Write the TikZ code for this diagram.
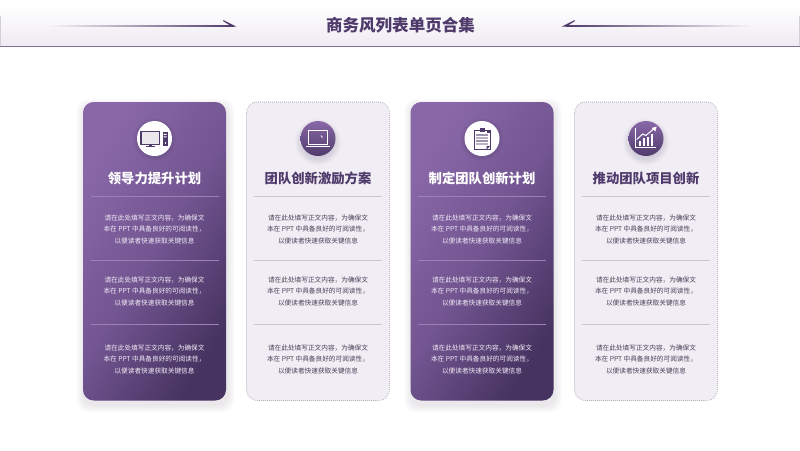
\documentclass[tikz,border=0pt]{standalone}
\usepackage{fontspec}
\setmainfont{Noto Sans CJK SC}
\usetikzlibrary{fadings}
\definecolor{deep}{HTML}{4F3B6B}
\definecolor{ptop}{HTML}{8A68A8}
\definecolor{pmid}{HTML}{725591}
\definecolor{pbot}{HTML}{463360}
\definecolor{lightcard}{HTML}{F0EDF4}
\definecolor{dotline}{HTML}{9D99A6}
\definecolor{sepdark}{HTML}{9E7FB8}
\definecolor{seplight}{HTML}{C9C4D0}
\definecolor{bodydark}{HTML}{4A4057}
\definecolor{bodylight}{HTML}{F3ECF8}
\definecolor{headbot}{HTML}{EEEAF2}
\definecolor{headline}{HTML}{7D7590}
\tikzfading[name=fadeleft,left color=transparent!100,right color=transparent!0]
\tikzfading[name=faderight,left color=transparent!0,right color=transparent!100]
\tikzset{
  x=0.75pt,y=-0.75pt,
  titletext/.style={font=\fontsize{12.4}{15}\selectfont\bfseries,text=deep,inner sep=0pt},
  headtext/.style={font=\fontsize{10}{12}\selectfont\bfseries,inner sep=0pt},
  blocktext/.style={font=\fontsize{5}{8.6}\selectfont,align=center,inner sep=0pt},
  sep/.style={line width=0.75pt},
  iconline/.style={draw=#1,line width=0.9pt,line join=round},
}
\newcommand{\blockbody}{请在此处填写正文内容，为确保文\\本在 PPT 中具备良好的可阅读性，\\以便读者快速获取关键信息}
\newcommand{\cardshadow}[3]{%
  \foreach \g in {1,...,7}{%
    \fill[deep,opacity=0.015,rounded corners=8pt]
      (#2-\g+1,102+4-\g) rectangle (#3+\g+1,400+5+\g);
  }%
}
\newcommand{\darkcard}[3]{%
  \pgfmathsetmacro{\L}{#2-71.5}\pgfmathsetmacro{\R}{#2+71.5}%
  \cardshadow{#1}{\L}{\R}%
  \shade[rounded corners=8pt,top color=ptop,bottom color=pbot,middle color=pmid,shading angle=58]
    (\L,102) rectangle (\R,400.5);
  \cardinner{#1}{#2}{#3}{white}{bodylight}{sepdark}%
}
\newcommand{\lightcardbox}[3]{%
  \pgfmathsetmacro{\L}{#2-71.5}\pgfmathsetmacro{\R}{#2+71.5}%
  \fill[lightcard,rounded corners=8pt] (\L,102) rectangle (\R,400.5);
  \draw[dotline,line width=0.5pt,densely dotted,rounded corners=8pt] (\L,102) rectangle (\R,400.5);
  \cardinner{#1}{#2}{#3}{deep}{bodydark}{seplight}%
}
\newcommand{\cardinner}[6]{%
  \node[headtext,text=#4] (title#1) at (#2,178.5) {#3};
  \node[blocktext,text=#5] (bodya#1) at (#2,229) {\blockbody};
  \node[blocktext,text=#5] (bodyb#1) at (#2,291) {\blockbody};
  \node[blocktext,text=#5] (bodyc#1) at (#2,359) {\blockbody};
  \draw[sep,#6] (#2-64,196.7) -- (#2+64,196.7);
  \draw[sep,#6] (#2-64,260.7) -- (#2+64,260.7);
  \draw[sep,#6] (#2-64,324) -- (#2+64,324);
}
\newcommand{\whitedisc}[1]{%
  \foreach \g in {1,...,4}{\fill[black,opacity=0.02] (#1,139.5) circle[radius=(17.5+\g)*0.75pt];}%
  \fill[white] (#1,138.5) circle[radius=17.5*0.75pt];
}
\newcommand{\deepdisc}[1]{%
  \foreach \g in {1,...,7}{\fill[deep,opacity=0.022] (#1,142) circle[radius=(16+\g)*0.75pt];}%
  \shade[top color=ptop,bottom color=deep] (#1,138.5) circle[radius=17.5*0.75pt];
}
\begin{document}
\begin{tikzpicture}
\useasboundingbox (0,0) rectangle (800,450);
\fill[white] (0,0) rectangle (800,450);
% header band
\shade[top color=white,bottom color=headbot] (0,6) rectangle (800,46);
\draw[headline!35,line width=0.4pt] (0.5,16) -- (0.5,46) (799.5,16) -- (799.5,46);
\draw[headline,line width=0.75pt] (0,46.3) -- (800,46.3);
\node[titletext] (maintitle) at (400.5,25) {商务风列表单页合集};
% header arrows
\fill[deep,path fading=fadeleft] (50,25) rectangle (234,26.7);
\fill[deep,path fading=faderight] (566,25) rectangle (750,26.7);
\fill[deep] (223.5,20.2) -- (236.5,26.7) -- (232,26.7) -- (223,21) -- cycle;
\fill[deep] (574.5,20.2) -- (561.5,26.7) -- (566,26.7) -- (575,21) -- cycle;
% cards
\darkcard{a}{154.5}{领导力提升计划}
\lightcardbox{b}{318}{团队创新激励方案}
\darkcard{c}{482}{制定团队创新计划}
\lightcardbox{d}{646}{推动团队项目创新}
% discs
\whitedisc{154.5}
\deepdisc{318}
\whitedisc{482}
\deepdisc{646}
% icon a: computer
\begin{scope}[shift={(153.7,138.3)}]
  \draw[iconline=deep,fill=deep!12] (-12.7,-6.7) rectangle (5.7,6);
  \fill[deep] (-5,6) rectangle (-2,8);
  \fill[deep] (-8,8) rectangle (1,9);
  \fill[deep] (9,-6.5) rectangle (14,8);
  \fill[white] (10,-4.5) rectangle (13,-3.5) (10,-2) rectangle (13,-1);
  \fill[white] (11,4) rectangle (12,5.5);
\end{scope}
% icon b: laptop
\begin{scope}[shift={(317.7,138.3)}]
  \draw[iconline=white] (-9.3,-7.7) rectangle (9.7,6.2);
  \fill[white] (-12,7.6) rectangle (12.3,9);
  \fill[white] (3.2,-3.2) -- (5.2,-1) -- (4.4,-0.5) -- (3,-2.5) -- cycle;
\end{scope}
% icon c: clipboard
\begin{scope}[shift={(481.7,138)}]
  \draw[draw=deep,line width=0.6pt,fill=white] (-7.3,-8) rectangle (8.3,11.5);
  \fill[deep] (-2,-10.5) rectangle (3,-6.5);
  \fill[deep!55!white] (-5.5,-4.5) rectangle (6.5,-2.5);
  \fill[deep!40!white] (-5.5,-1.5) rectangle (6.5,0.5);
  \fill[deep!55!white] (-5.5,1.5) rectangle (6.5,3.5);
  \fill[deep!40!white] (-5.5,4.5) rectangle (6.5,6.5);
  \fill[deep] (5,8) -- (8.3,8) -- (5,11.5) -- cycle;
  \fill[deep] (5.5,-8) rectangle (8.3,-5.5);
\end{scope}
% icon d: chart
\begin{scope}[shift={(645.7,138)}]
  \draw[draw=white,line width=0.75pt] (-10,-10) -- (-10,9) -- (10.5,9);
  \foreach \bx/\bt in {-7/3,-3/0,1/-1,5/-4}{\fill[white] (\bx,\bt) rectangle (\bx+2.4,7.8);}
  \draw[white,line width=0.75pt] (-9,1.5) -- (-3,-4) -- (0,-2.5) -- (8,-9);
  \fill[white] (11,-11.5) -- (9.6,-6.5) -- (6,-10) -- cycle;
\end{scope}
\end{tikzpicture}
\end{document}
